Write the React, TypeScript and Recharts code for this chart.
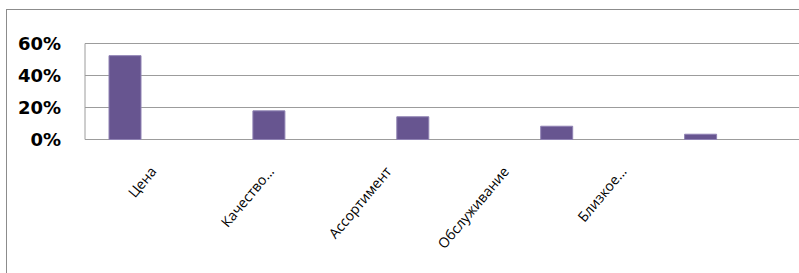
import { BarChart, Bar, XAxis, YAxis, CartesianGrid } from "recharts";

// причины выбора магазина, доля ответов
const categories = ["Цена", "Качество...", "Ассортимент", "Обслуживание", "Близкое..."];
const shares = [0.524, 0.179, 0.142, 0.083, 0.033];
const yTicks = [0, 0.2, 0.4, 0.6];

const data = categories.map((name, i) => ({ name, share: shares[i] }));

const gridColor = "#9c9c9c";

export default function App() {
  return (
    <div
      style={{
        position: "absolute",
        left: 0,
        top: 0,
        width: 799,
        height: 273,
        overflow: "hidden",
        background: "#fff",
      }}
    >
      <div
        style={{
          position: "absolute",
          left: 6,
          top: 9,
          borderLeft: "1px solid #8c8c8c",
          borderTop: "1px solid #8c8c8c",
        }}
      >
        <BarChart
          width={800}
          height={270}
          data={data}
          margin={{ top: 33.5, right: 2.5, bottom: 40.5, left: 0 }}
          barSize={32}
          barGap={31}
        >
          <CartesianGrid vertical={false} stroke={gridColor} />
          <XAxis xAxisId="bars" dataKey="name" hide />
          <XAxis
            xAxisId="labels"
            dataKey="name"
            height={100}
            interval={0}
            padding={{ left: 6, right: 126 }}
            axisLine={false}
            tickLine={false}
            tickMargin={-10}
            angle={-50}
            textAnchor="end"
            tick={{ fontFamily: "Open Sans", fontSize: 14, fill: "#000" }}
          />
          <YAxis
            width={78}
            domain={[0, 0.6]}
            ticks={yTicks}
            tickFormatter={(v: number) => `${Math.round(v * 100)}%`}
            axisLine={{ stroke: gridColor }}
            tickLine={false}
            tickMargin={18}
            tick={{ fontFamily: "DejaVu Sans", fontWeight: "bold", fontSize: 18, fill: "#000" }}
          />
          <Bar xAxisId="bars" dataKey="share" fill="#675590" stroke="#8f82b3" strokeWidth={1} isAnimationActive={false} />
          <Bar xAxisId="bars" dataKey="blank" isAnimationActive={false} />
        </BarChart>
      </div>
    </div>
  );
}
